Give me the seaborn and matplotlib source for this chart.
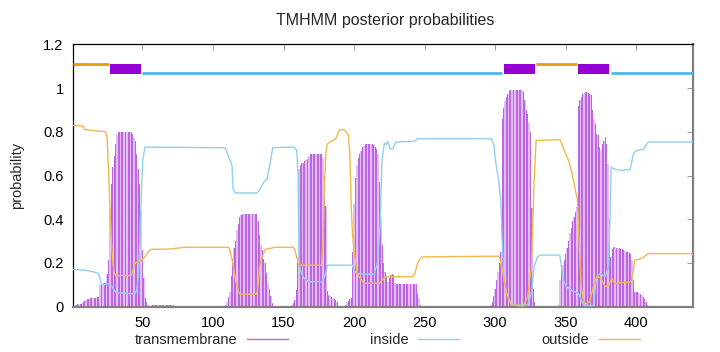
import numpy as np
import pandas as pd
import matplotlib
matplotlib.use("Agg")
import matplotlib.pyplot as plt
from matplotlib.lines import Line2D
import seaborn as sns

# ---------------- data ----------------
SEQ_LEN = 440

# predicted topology (label, first residue, last residue)
TOPO_LABELS = ["outside", "TM", "inside", "TM", "outside", "TM", "inside"]
TOPO_START = [1, 27, 50, 306, 329, 359, 382]
TOPO_END = [26, 49, 305, 328, 358, 381, 440]

# transmembrane posterior probability, per residue (segments, start residue)
TM_A_START = 1
TM_A = [0.005, 0.005, 0.01, 0.012, 0.012, 0.012, 0.012, 0.02, 0.027, 0.03,
        0.034, 0.036, 0.038, 0.038, 0.04, 0.04, 0.042, 0.045, 0.046,
        0.10, 0.107, 0.107, 0.107, 0.107,
        0.15, 0.213, 0.45, 0.56, 0.64, 0.69, 0.745, 0.79,
        0.798, 0.798, 0.798, 0.798, 0.798, 0.798, 0.798, 0.798, 0.798, 0.798,
        0.79, 0.77, 0.76, 0.70, 0.63, 0.56, 0.44, 0.26, 0.13, 0.038, 0.023, 0.01]
TM_B_START = 55
TM_B = [0.004, 0.005, 0.006, 0.007, 0.008, 0.008, 0.008, 0.008, 0.009, 0.009,
        0.009, 0.009, 0.008, 0.008, 0.008, 0.007, 0.007, 0.006, 0.005, 0.004,
        0.003, 0.003, 0.002]
TM_C_START = 108
TM_C = [0.005, 0.01, 0.023, 0.046, 0.068, 0.14, 0.22, 0.27, 0.30, 0.35, 0.38, 0.41, 0.42,
        0.425, 0.425, 0.425, 0.425, 0.425, 0.425, 0.425, 0.425, 0.425, 0.425, 0.425,
        0.39, 0.33, 0.28, 0.26, 0.22, 0.20, 0.155, 0.11, 0.08, 0.05, 0.015]
TM_D_START = 155
TM_D = [0.005, 0.01, 0.015, 0.03, 0.076, 0.20,
        0.631, 0.646, 0.655, 0.655, 0.665, 0.669, 0.676, 0.69, 0.697,
        0.697, 0.697, 0.697, 0.697, 0.697, 0.697, 0.697, 0.697,
        0.68, 0.60, 0.46, 0.07, 0.055, 0.05, 0.045, 0.038, 0.034, 0.03, 0.02, 0.005]
TM_E_START = 194
TM_E = [0.01, 0.02, 0.027, 0.035, 0.04, 0.25, 0.47, 0.59, 0.65, 0.68, 0.70, 0.71, 0.73, 0.737,
        0.745, 0.745, 0.745, 0.745, 0.745, 0.745, 0.74,
        0.73, 0.72, 0.70, 0.57, 0.40, 0.28, 0.198, 0.16, 0.137, 0.114, 0.13, 0.145, 0.149, 0.145, 0.11,
        0.104, 0.104, 0.104, 0.104, 0.104, 0.104, 0.104, 0.104, 0.104, 0.104, 0.104, 0.104, 0.104,
        0.104, 0.104,
        0.06, 0.038, 0.01]
TM_F_START = 297
TM_F = [0.008, 0.02, 0.05, 0.08, 0.12, 0.16, 0.20, 0.25,
        0.86, 0.91, 0.94, 0.96, 0.975, 0.985, 0.99,
        0.992, 0.992, 0.992, 0.992, 0.992, 0.992, 0.992,
        0.99, 0.98, 0.945, 0.90, 0.88, 0.84, 0.80, 0.45, 0.08, 0.02, 0.005]
TM_G_START = 345
TM_G = [0.01, 0.12, 0.17, 0.19, 0.213, 0.24, 0.27, 0.30, 0.335, 0.36, 0.39, 0.41, 0.435, 0.456,
        0.92, 0.943, 0.958, 0.973, 0.978, 0.98, 0.98, 0.978, 0.973, 0.97, 0.90, 0.86, 0.837,
        0.791, 0.783, 0.73, 0.715, 0.745, 0.76, 0.776, 0.745, 0.654, 0.40,
        0.228, 0.266, 0.274, 0.274, 0.27, 0.268, 0.268, 0.266, 0.262, 0.259, 0.257, 0.251,
        0.248, 0.244, 0.24, 0.213, 0.122, 0.068, 0.068, 0.065, 0.061, 0.058, 0.053, 0.046,
        0.035, 0.022, 0.01]

# inside posterior probability (residue, value)
INSIDE_POS = [1, 9, 15, 18.7, 20, 21, 24.7, 26, 28.2, 30, 31.8, 44.7, 46, 47.1, 48, 48.8,
              50.2, 51.8, 108.7, 111.2, 113.5, 114.2, 115.8, 131.2, 133.6, 136, 138.3, 140,
              142.4, 157.5, 159.4, 160.3, 161, 162.2, 164.5, 168, 177.5, 179.9, 181, 198.8,
              200, 202.3, 207, 214.2, 216.5, 218.4, 219.8, 221.5, 222.7, 223.9, 225.5, 227.4,
              229.7, 242.7, 245.1, 297.3, 299.2, 300.2, 302.1, 304, 304.9, 306.3, 308, 311.5,
              323, 325.7, 327.6, 330, 332, 345.8, 347, 348.2, 350.5, 354, 358.8, 361.1, 363,
              369.6, 372, 374.4, 377.9, 380.3, 381.5, 382.2, 383.8, 388.5, 395.6, 398, 400.4,
              405, 408.6, 440]
INSIDE_VAL = [0.171, 0.167, 0.16, 0.152, 0.13, 0.10, 0.104, 0.104, 0.094, 0.075, 0.064, 0.058,
              0.08, 0.137, 0.28, 0.441, 0.669, 0.73, 0.727, 0.684, 0.646, 0.54, 0.52, 0.52,
              0.54, 0.57, 0.585, 0.639, 0.727, 0.73, 0.715, 0.593, 0.198, 0.16, 0.13, 0.114,
              0.114, 0.152, 0.19, 0.19, 0.167, 0.152, 0.148, 0.149, 0.2, 0.365, 0.669, 0.748,
              0.742, 0.756, 0.722, 0.722, 0.753, 0.757, 0.768, 0.768, 0.738, 0.669, 0.593,
              0.487, 0.304, 0.122, 0.061, 0.008, 0.008, 0.061, 0.183, 0.228, 0.236, 0.236,
              0.183, 0.122, 0.091, 0.076, 0.061, 0.03, 0.005, 0.005, 0.137, 0.152, 0.137,
              0.183, 0.426, 0.639, 0.631, 0.624, 0.627, 0.70, 0.715, 0.72, 0.753, 0.753]

# outside posterior probability (residue, value)
OUTSIDE_POS = [1, 8, 9, 24, 25, 26, 27, 28, 29, 30, 31, 42, 43, 44, 45, 48, 50, 52, 54, 56,
               70, 80, 111, 112, 113, 114, 116, 118, 119, 131, 132, 133, 135, 137, 144, 157,
               158, 160, 161, 177, 178, 179, 180, 181, 183, 187, 189, 190, 193, 195, 196, 197,
               198, 199, 200, 202, 203.5, 207, 218, 221, 223, 241, 243, 245, 247, 249, 303,
               304, 305.6, 308, 311.5, 320, 323, 325.7, 327.6, 329, 346, 349, 352, 354, 356.4,
               358.3, 359.5, 361, 362.5, 364, 367, 369.6, 372, 374.4, 377.9, 380.3, 382.7,
               385, 388, 395, 396.8, 399, 404, 408.6, 440]
OUTSIDE_VAL = [0.828, 0.826, 0.81, 0.80, 0.77, 0.62, 0.45, 0.30, 0.20, 0.155, 0.142, 0.142,
               0.16, 0.19, 0.20, 0.21, 0.215, 0.23, 0.25, 0.262, 0.264, 0.272, 0.272, 0.26,
               0.23, 0.20, 0.12, 0.07, 0.058, 0.057, 0.10, 0.18, 0.23, 0.262, 0.272, 0.272,
               0.26, 0.21, 0.19, 0.19, 0.30, 0.55, 0.70, 0.745, 0.753, 0.768, 0.80, 0.809,
               0.809, 0.795, 0.783, 0.70, 0.45, 0.32, 0.259, 0.16, 0.137, 0.107, 0.107, 0.13,
               0.137, 0.137, 0.15, 0.198, 0.222, 0.228, 0.231, 0.20, 0.152, 0.061, 0.008,
               0.003, 0.046, 0.183, 0.578, 0.76, 0.764, 0.715, 0.669, 0.624, 0.548, 0.487,
               0.30, 0.09, 0.03, 0.012, 0.023, 0.091, 0.137, 0.135, 0.094, 0.094, 0.13,
               0.104, 0.11, 0.112, 0.122, 0.213, 0.221, 0.243, 0.243]

Y_TICKS = [0, 0.2, 0.4, 0.6, 0.8, 1.0, 1.2]
Y_TICK_LABELS = ["0", "0.2", "0.4", "0.6", "0.8", "1", "1.2"]
X_TICKS = [50, 100, 150, 200, 250, 300, 350, 400]

# ---------------- build tables ----------------
tm_pos, tm_val = [], []
for start, vals in [(TM_A_START, TM_A), (TM_B_START, TM_B), (TM_C_START, TM_C),
                    (TM_D_START, TM_D), (TM_E_START, TM_E), (TM_F_START, TM_F),
                    (TM_G_START, TM_G)]:
    tm_pos.extend(range(start, start + len(vals)))
    tm_val.extend(vals)
tm_df = pd.DataFrame({"residue": tm_pos, "prob": tm_val})
inside_df = pd.DataFrame({"residue": INSIDE_POS, "prob": INSIDE_VAL})
outside_df = pd.DataFrame({"residue": OUTSIDE_POS, "prob": OUTSIDE_VAL})

# ---------------- style ----------------
sns.set_style("white")
plt.rcParams["font.family"] = ["Liberation Sans", "DejaVu Sans"]
FS = 10.5

C_TM = "#9400d3"
C_IN = "#56b4e9"
C_OUT = "#e69f00"

fig = plt.figure(figsize=(7.2, 3.52), dpi=100)
ax = fig.add_axes([73.3 / 720, 1 - 306.7 / 352, (692.7 - 73.3) / 720, (306.7 - 44.3) / 352])

# transmembrane impulses: light fill + darker stripes
ax.bar(tm_df["residue"], tm_df["prob"], width=1.0, color="#e3bdf4", linewidth=0, zorder=2)
ax.bar(tm_df["residue"], tm_df["prob"], width=0.55, color="#bd66e4", linewidth=0, zorder=2.1)

# inside / outside curves
sns.lineplot(data=inside_df, x="residue", y="prob", ax=ax, color="#8fcff0", lw=1.0,
             estimator=None, zorder=3)
sns.lineplot(data=outside_df, x="residue", y="prob", ax=ax, color="#f2b84a", lw=1.0,
             estimator=None, zorder=3)

# topology bar on top
for lab, s, e in zip(TOPO_LABELS, TOPO_START, TOPO_END):
    if lab == "TM":
        ax.fill_between([s, e], 1.066, 1.111, color=C_TM, linewidth=0, zorder=4)
    elif lab == "outside":
        ax.plot([s, e], [1.111, 1.111], color=C_OUT, lw=2.0, solid_capstyle="butt", zorder=4)
    else:
        ax.plot([s, e], [1.07, 1.07], color=C_IN, lw=2.0, solid_capstyle="butt", zorder=4)

ax.set_xlim(1, SEQ_LEN)
ax.set_ylim(0, 1.2)
ax.set_xticks(X_TICKS)
ax.set_yticks(Y_TICKS)
ax.set_yticklabels(Y_TICK_LABELS)
ax.set_xlabel("")
ax.set_ylabel("probability", fontsize=FS, labelpad=14)
ax.tick_params(direction="in", length=4, width=0.6, colors="#888888",
               top=True, right=True, labelsize=FS, labelcolor="black", pad=7)
for side in ["left", "top"]:
    ax.spines[side].set_color("black")
    ax.spines[side].set_linewidth(0.9)
for side in ["right", "bottom"]:
    ax.spines[side].set_color("#808080")
    ax.spines[side].set_linewidth(1.6)
ax.grid(False)

fig.text(385 / 720, 1 - 20 / 352, "TMHMM posterior probabilities", ha="center", va="center",
         fontsize=11.5)

handles = [Line2D([], [], color="#b868e0", lw=1.0),
           Line2D([], [], color="#8fcff0", lw=1.0),
           Line2D([], [], color="#f2b84a", lw=1.0)]
fig.legend(handles, ["transmembrane", "inside", "outside"], loc="center",
           bbox_to_anchor=(387 / 720, 1 - 340 / 352), ncol=3, frameon=False,
           markerfirst=False, fontsize=FS, handlelength=2.8, columnspacing=5.6,
           handletextpad=0.7, borderaxespad=0)

fig.savefig("out.png", dpi=100)
